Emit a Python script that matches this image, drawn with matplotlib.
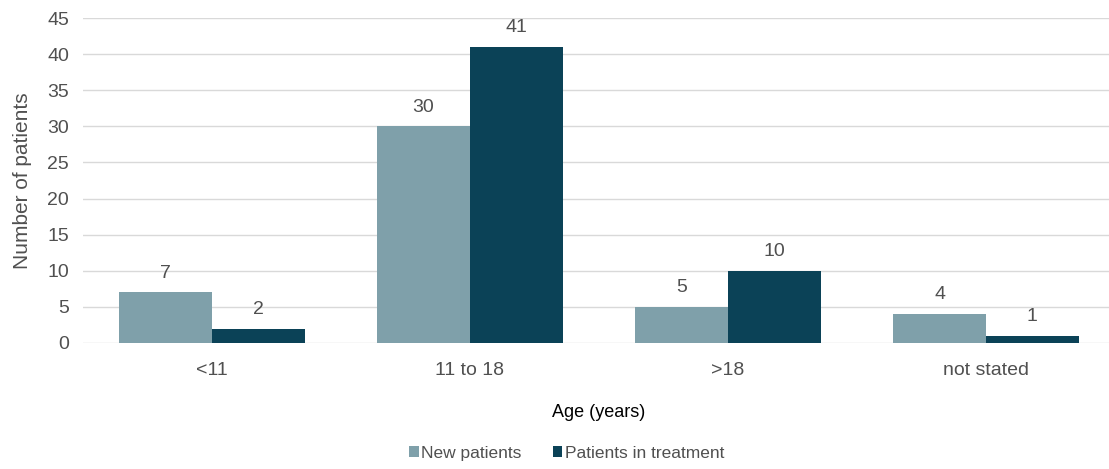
import numpy as np
import matplotlib.pyplot as plt

# patients by age group
age_groups = ['<11', '11 to 18', '>18', 'not stated']
new_patients = [7, 30, 5, 4]
in_treatment = [2, 41, 10, 1]
series_names = ['New patients', 'Patients in treatment']

plt.rcParams['font.family'] = ['Liberation Sans', 'DejaVu Sans']

light = '#7fa0aa'
dark = '#0b4257'
txt = '#505050'

fig = plt.figure(figsize=(11.09, 4.69), dpi=100)
# axes run slightly past the right edge so the gridlines reach the border
ax = fig.add_axes([0.0748, 0.2687, 0.9306, 0.6929])

x = np.arange(len(age_groups))
w = 0.36
b1 = ax.bar(x - w / 2, new_patients, w, color=light, label=series_names[0], zorder=3)
b2 = ax.bar(x + w / 2, in_treatment, w, color=dark, label=series_names[1], zorder=3)

for bars, vals in ((b1, new_patients), (b2, in_treatment)):
    for r, v in zip(bars, vals):
        ax.text(r.get_x() + r.get_width() / 2, v + 1.5, str(v),
                ha='center', va='bottom', fontsize=14, color=txt)

ax.set_xlim(-0.5, len(age_groups) - 0.5)
ax.set_ylim(0, 45)
ax.set_yticks(np.arange(0, 46, 5))
ax.set_xticks(x)
ax.set_xticklabels(age_groups)
ax.yaxis.grid(True, color='#d9d9d9', lw=1, zorder=0)
for s in ax.spines.values():
    s.set_visible(False)
ax.tick_params(length=0, labelsize=14, colors=txt, pad=10)
ax.tick_params(axis='x', pad=14)

ax.set_ylabel('Number of patients', fontsize=15, color=txt, labelpad=11)
ax.set_xlabel('Age (years)', fontsize=13, color='#000000', labelpad=18)

fig.legend(handles=[b1, b2], loc='center', bbox_to_anchor=(0.511, 0.034),
           ncol=2, frameon=False, fontsize=12.5, handlelength=0.55,
           handleheight=0.55, handletextpad=0.15, columnspacing=1.8,
           labelcolor=txt)

fig.savefig('out.png', dpi=100)
